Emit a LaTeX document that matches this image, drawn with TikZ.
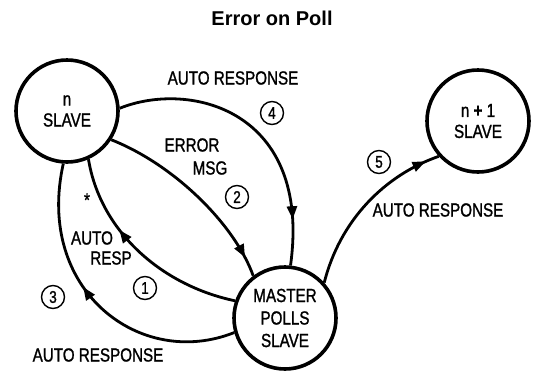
\documentclass[tikz,border=0pt]{standalone}
\usepackage{fontspec}
\setmainfont{Liberation Sans}
\newfontfamily\labelfont[FakeStretch=0.8,FakeBold=1.2]{Liberation Sans}
\usetikzlibrary{arrows.meta,decorations.markings}

\begin{document}
\begin{tikzpicture}[x=1pt,y=-1pt,
  station/.style={draw, circle, line width=3.6pt, minimum size=102pt, inner sep=0pt,
    align=center, font=\labelfont\fontsize{19}{21}\selectfont},
  link/.style={line width=2.8pt},
  flowmark/.style={postaction={decorate}, decoration={markings,
    mark=at position #1 with {\arrow{Triangle[length=13pt,width=10pt]}}}},
  lbl/.style={inner sep=0pt, align=center, font=\labelfont\fontsize{19}{21}\selectfont},
  stepnum/.style={draw, circle, line width=1.4pt, minimum size=23pt, inner sep=0pt,
    font=\labelfont\fontsize{17}{17}\selectfont}
]
\useasboundingbox (0,0) rectangle (535,378);

% heading
\node[font=\bfseries\fontsize{20}{24}\selectfont] (title) at (272,18) {Error on Poll};

% stations
\node[station] (n)  at (67,111)  {n\\SLAVE};
\node[station] (n1) at (478,121) {n \textbf{+} 1\\SLAVE};
\node[station, font=\labelfont\fontsize{19}{22.5}\selectfont] (m) at (285,318) {MASTER\\POLLS\\SLAVE};

% transitions
\draw[link, flowmark=0.84] (n.3) .. controls (190,80) and (312,110) .. (m.84);
\draw[link, flowmark=0.9] (n.-33) .. controls (175,165) and (235,225) .. (m.127);
\draw[link, flowmark=0.64] (m.161) .. controls (160,285) and (100,230) .. (n.-66);
\draw[link, flowmark=0.57] (m.196) .. controls (140,370) and (35,290) .. (n.-94);
\draw[link, flowmark=0.92] (m.42) .. controls (340,220) and (385,175) .. (n1.222);

% labels
\node[lbl] (l4) at (233,78) {AUTO RESPONSE};
\node[lbl] (l2a) at (192,145) {ERROR};
\node[lbl] (l2b) at (210,168) {MSG};
\node[lbl] (star) at (87,200) {*};
\node[lbl] (l1a) at (92,238) {AUTO};
\node[lbl] (l1b) at (111,258) {RESP};
\node[lbl] (l3) at (98,355) {AUTO RESPONSE};
\node[lbl] (l5) at (438,210) {AUTO RESPONSE};

% step numbers
\node[stepnum] (s1) at (145,288) {1};
\node[stepnum] (s2) at (237,197) {2};
\node[stepnum] (s3) at (53,297)  {3};
\node[stepnum] (s4) at (272,113) {4};
\node[stepnum] (s5) at (379,162) {5};
\end{tikzpicture}
\end{document}
